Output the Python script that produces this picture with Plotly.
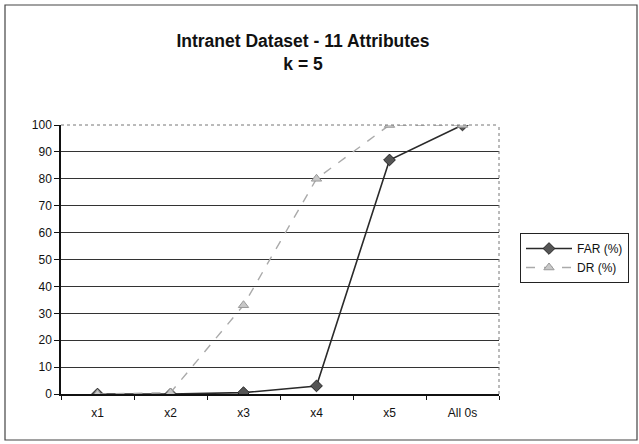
import plotly.graph_objects as go

categories = ["x1", "x2", "x3", "x4", "x5", "All 0s"]
far = [0, 0, 0.5, 3, 87, 100]
dr = [0, 0.5, 33, 80, 100, 100]

W, H = 639, 444
L, R, T, B = 61, 140, 125, 50
pw = W - L - R
ph = H - T - B

fig = go.Figure()
fig.add_trace(go.Scatter(x=categories, y=far, name="FAR (%)", mode="lines+markers",
                         line=dict(color="#2a2a2a", width=1.6),
                         marker=dict(symbol="diamond", size=9, color="#555555",
                                     line=dict(color="#222222", width=1))))
fig.add_trace(go.Scatter(x=categories, y=dr, name="DR (%)", mode="lines+markers",
                         line=dict(color="#aaaaaa", width=1.4, dash="dash"),
                         marker=dict(symbol="triangle-up", size=9, color="#c8c8c8",
                                     line=dict(color="#999999", width=1))))

def px2paperx(px):
    return (px - L) / pw

def px2papery(py):
    return (H - B - py) / ph

fig.update_layout(
    width=W, height=H,
    margin=dict(l=L, r=R, t=T, b=B, autoexpand=False),
    paper_bgcolor="white", plot_bgcolor="white",
    font=dict(family="Liberation Sans, Arial, sans-serif", color="#111111", size=12),
    title=dict(text="<b>Intranet Dataset - 11 Attributes</b><br><b>k = 5</b>",
               x=303 / W, xref="container", xanchor="center",
               y=1 - 47 / H, yref="container", yanchor="middle",
               font=dict(size=17.5, color="#111111")),
    showlegend=True,
    legend=dict(x=px2paperx(520), y=px2papery(258), xanchor="left", yanchor="middle",
                bordercolor="#222222", borderwidth=1, bgcolor="white",
                font=dict(size=12), itemwidth=46, tracegroupgap=0),
    xaxis=dict(type="category", showline=True, linecolor="#111111", linewidth=1.5,
               ticks="outside", tickson="boundaries", ticklen=4, tickcolor="#111111",
               ticklabelstandoff=7,
               showgrid=False, mirror=False, range=[-0.5, 5.5]),
    yaxis=dict(range=[0, 100], tickvals=list(range(0, 101, 10)), showline=True,
               linecolor="#111111", linewidth=1.5, ticks="outside", ticklen=5,
               tickcolor="#111111", showgrid=True, gridcolor="#333333", gridwidth=1,
               zeroline=False),
)

# outer chart border
fig.add_shape(type="rect", xref="paper", yref="paper",
              x0=px2paperx(5), x1=px2paperx(637), y0=px2papery(440), y1=px2papery(5),
              line=dict(color="#444444", width=1.2), layer="below")
# dotted plot area border top and right
fig.add_shape(type="line", xref="paper", yref="paper", x0=0, x1=1, y0=1, y1=1,
              line=dict(color="#777777", width=1, dash="dot"))
fig.add_shape(type="line", xref="paper", yref="paper", x0=1, x1=1, y0=0, y1=1,
              line=dict(color="#777777", width=1, dash="dot"))

fig.write_html("out.html", config={"displayModeBar": False},
               post_script="document.body.style.margin='0';")
